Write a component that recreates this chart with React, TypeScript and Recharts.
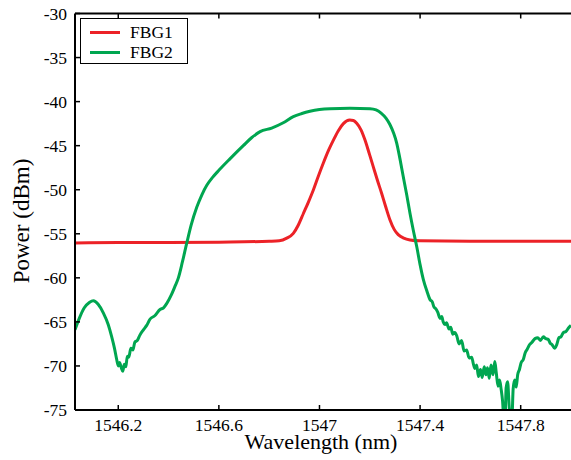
import React from 'react';
import { LineChart, Line, XAxis, YAxis, Legend } from 'recharts';

const fbg1Wavelength = [1546.028, 1546.2, 1546.4, 1546.6, 1546.8, 1546.84, 1546.87, 1546.896, 1546.916, 1546.936, 1546.956, 1546.976, 1546.995, 1547.015, 1547.035, 1547.055, 1547.075, 1547.095, 1547.12, 1547.135, 1547.148, 1547.165, 1547.181, 1547.198, 1547.214, 1547.23, 1547.247, 1547.263, 1547.28, 1547.297, 1547.313, 1547.335, 1547.36, 1547.4, 1547.6, 1547.8, 1548.0];
const fbg1Power = [-56.05, -56.0, -56.0, -55.95, -55.85, -55.8, -55.5, -54.95, -54.0, -52.7, -51.4, -50.0, -48.5, -47.0, -45.6, -44.4, -43.3, -42.5, -42.09, -42.15, -42.46, -43.2, -44.36, -45.9, -47.4, -48.9, -50.4, -51.9, -53.4, -54.5, -55.1, -55.5, -55.7, -55.8, -55.85, -55.85, -55.85];

const fbg2Wavelength = [1546.028, 1546.045, 1546.065, 1546.085, 1546.101, 1546.12, 1546.141, 1546.16, 1546.174, 1546.185, 1546.194, 1546.2, 1546.205, 1546.212, 1546.218, 1546.224, 1546.23, 1546.236, 1546.242, 1546.25, 1546.258, 1546.266, 1546.276, 1546.286, 1546.3, 1546.313, 1546.326, 1546.345, 1546.366, 1546.38, 1546.393, 1546.41, 1546.425, 1546.439, 1546.455, 1546.472, 1546.49, 1546.512, 1546.532, 1546.552, 1546.575, 1546.6, 1546.644, 1546.697, 1546.73, 1546.764, 1546.81, 1546.856, 1546.896, 1546.93, 1546.962, 1547.0, 1547.042, 1547.121, 1547.201, 1547.225, 1547.245, 1547.265, 1547.28, 1547.295, 1547.307, 1547.32, 1547.333, 1547.347, 1547.36, 1547.373, 1547.387, 1547.4, 1547.413, 1547.427, 1547.44, 1547.448, 1547.455, 1547.462, 1547.47, 1547.48, 1547.486, 1547.492, 1547.5, 1547.505, 1547.515, 1547.522, 1547.53, 1547.538, 1547.546, 1547.555, 1547.565, 1547.575, 1547.585, 1547.595, 1547.605, 1547.612, 1547.618, 1547.625, 1547.632, 1547.64, 1547.647, 1547.655, 1547.662, 1547.668, 1547.675, 1547.682, 1547.69, 1547.697, 1547.703, 1547.71, 1547.716, 1547.722, 1547.728, 1547.733, 1547.738, 1547.742, 1547.748, 1547.754, 1547.759, 1547.765, 1547.77, 1547.776, 1547.782, 1547.788, 1547.795, 1547.802, 1547.81, 1547.818, 1547.826, 1547.835, 1547.845, 1547.857, 1547.868, 1547.878, 1547.89, 1547.9, 1547.91, 1547.917, 1547.925, 1547.935, 1547.943, 1547.952, 1547.96, 1547.97, 1547.98, 1547.99, 1548.0];
const fbg2Power = [-65.9, -64.6, -63.4, -62.8, -62.6, -63.0, -64.0, -65.3, -66.7, -68.0, -69.3, -70.0, -69.6, -70.2, -70.6, -69.8, -70.1, -68.9, -69.0, -68.0, -68.2, -67.3, -67.1, -66.5, -65.9, -65.4, -64.7, -64.3, -63.6, -63.4, -62.9, -62.0, -61.0, -60.0, -58.2, -56.1, -54.0, -52.0, -50.6, -49.5, -48.6, -47.8, -46.5, -45.0, -44.1, -43.4, -43.0, -42.4, -41.7, -41.35, -41.1, -40.9, -40.8, -40.75, -40.8, -40.95, -41.3, -41.9, -42.6, -43.6, -44.7, -46.5, -48.5, -50.6, -52.7, -54.6, -56.5, -58.5, -60.2, -61.5, -62.5, -62.7, -63.3, -63.5, -63.9, -64.6, -64.4, -65.0, -65.3, -65.1, -65.8, -65.6, -66.4, -66.2, -66.6, -67.5, -67.1, -68.3, -68.2, -69.1, -69.0, -69.8, -70.3, -69.9, -71.2, -70.4, -71.3, -70.1, -71.0, -70.2, -71.4, -69.9, -71.0, -69.5, -70.8, -72.3, -71.6, -72.6, -74.0, -76.0, -76.0, -72.5, -71.8, -74.5, -76.0, -76.0, -72.6, -71.6, -72.4, -71.0, -70.4, -69.6, -69.3, -68.5, -68.1, -67.6, -67.3, -66.9, -66.8, -67.1, -66.7, -66.9, -67.0, -67.4, -67.6, -68.0, -67.6, -66.8, -66.7, -66.2, -66.1, -65.7, -65.4];

const xTicks = [1546.2, 1546.6, 1547, 1547.4, 1547.8];
const yTicks = [-75, -70, -65, -60, -55, -50, -45, -40, -35, -30];

const series = [
  { name: 'FBG1', color: '#EC2227', wl: fbg1Wavelength, p: fbg1Power },
  { name: 'FBG2', color: '#00A650', wl: fbg2Wavelength, p: fbg2Power },
];

const FONT = '"Liberation Serif", "Times New Roman", serif';

const LegendBox = () => (
  <div
    style={{
      boxSizing: 'border-box',
      width: 108,
      height: 46,
      border: '1.5px solid #000',
      background: '#fff',
      fontFamily: FONT,
      fontSize: 17.5,
      paddingTop: 3,
    }}
  >
    {series.map((s) => (
      <div key={s.name} style={{ display: 'flex', alignItems: 'center', height: 20 }}>
        <div style={{ width: 30, height: 3, background: s.color, marginLeft: 9, marginRight: 10 }} />
        <span style={{ lineHeight: '20px' }}>{s.name}</span>
      </div>
    ))}
  </div>
);

export default function App() {
  const lineData = series.map((s) => s.wl.map((w, i) => ({ wl: w, p: s.p[i] })));
  const tickStyle = { fill: '#000', fontSize: 17.5, fontFamily: FONT };
  return (
    <div style={{ position: 'absolute', left: 0, top: 0, width: 571, height: 460, background: '#fff', overflow: 'hidden' }}>
      <LineChart width={571} height={460} margin={{ top: 3.5, right: 0, bottom: 20, left: 0 }}>
        <XAxis
          xAxisId="top"
          orientation="top"
          type="number"
          dataKey="wl"
          domain={[1546.028, 1548]}
          allowDataOverflow
          ticks={xTicks}
          height={10}
          tickSize={-5}
          tickFormatter={() => ''}
          axisLine={{ stroke: '#000', strokeWidth: 2 }}
          tickLine={{ stroke: '#000', strokeWidth: 1.5 }}
        />
        <XAxis
          xAxisId="bottom"
          orientation="bottom"
          type="number"
          dataKey="wl"
          domain={[1546.028, 1548]}
          allowDataOverflow
          ticks={xTicks}
          height={30}
          tickSize={-5}
          tickMargin={14}
          tick={tickStyle}
          axisLine={{ stroke: '#000', strokeWidth: 2 }}
          tickLine={{ stroke: '#000', strokeWidth: 1.5 }}
          label={{
            content: () => (
              <text x={321} y={449} textAnchor="middle" fontSize={22} fontFamily={FONT} fill="#000">
                Wavelength (nm)
              </text>
            ),
          }}
        />
        <YAxis
          type="number"
          domain={[-75, -30]}
          allowDataOverflow
          ticks={yTicks}
          width={75}
          tickSize={-5}
          tickMargin={13}
          tick={tickStyle}
          axisLine={{ stroke: '#000', strokeWidth: 2 }}
          tickLine={{ stroke: '#000', strokeWidth: 1.5 }}
          label={{
            content: () => (
              <text x={28.5} y={221} transform="rotate(-90, 28.5, 221)" textAnchor="middle" fontSize={23} fontFamily={FONT} fill="#000">
                Power (dBm)
              </text>
            ),
          }}
        />
        <Legend
          layout="vertical"
          align="center"
          verticalAlign="middle"
          wrapperStyle={{ position: 'absolute', left: 80, top: 18, width: 108, height: 46 }}
          content={() => <LegendBox />}
        />
        {series.map((s, i) => (
          <Line
            key={s.name}
            xAxisId="bottom"
            data={lineData[i]}
            dataKey="p"
            name={s.name}
            type="monotone"
            stroke={s.color}
            strokeWidth={3}
            dot={false}
            activeDot={false}
            isAnimationActive={false}
          />
        ))}
      </LineChart>
    </div>
  );
}
